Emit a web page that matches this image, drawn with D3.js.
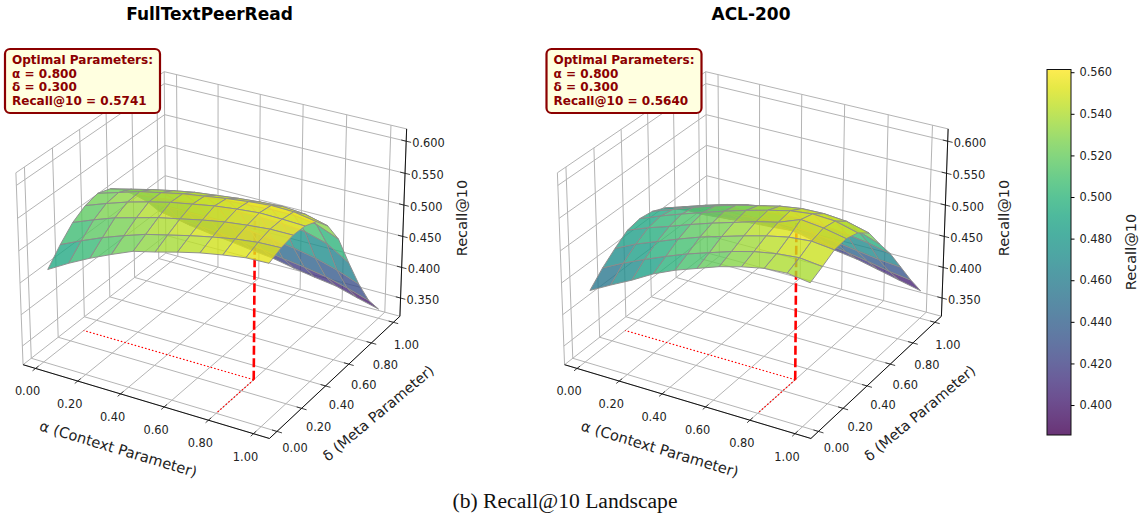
<!DOCTYPE html>
<html>
<head>
<meta charset="utf-8">
<script src="https://cdn.jsdelivr.net/npm/d3@7"></script>
<style>
  html, body { margin: 0; padding: 0; background: #fff; }
  text { font-family: "DejaVu Sans", sans-serif; fill: #222; }
</style>
</head>
<body>
<svg width="1141" height="516"></svg>
<script>
const alphas = [0, 0.1, 0.2, 0.3, 0.4, 0.5, 0.6, 0.7, 0.8, 0.9, 1];
const deltas = [0.05, 0.145, 0.24, 0.335, 0.43, 0.525, 0.62, 0.715, 0.81, 0.905, 1];

// one row per delta, one column per alpha
const recallFullText = [
  [.459, .478, .495, .510, .524, .532, .541, .549, .555, .560, .561],
  [.483, .498, .512, .524, .535, .543, .551, .558, .564, .568, .569],
  [.503, .516, .528, .537, .546, .553, .560, .566, .570, .573, .573],
  [.515, .527, .538, .547, .555, .561, .567, .571, .5741, .5735, .572],
  [.520, .530, .540, .547, .554, .559, .564, .568, .571, .570, .564],
  [.513, .521, .529, .536, .542, .546, .550, .553, .555, .552, .543],
  [.497, .503, .509, .515, .520, .523, .525, .527, .527, .522, .508],
  [.475, .479, .483, .487, .490, .491, .491, .490, .487, .477, .456],
  [.450, .450, .450, .450, .449, .446, .442, .437, .430, .420, .407],
  [.420, .415, .413, .410, .406, .402, .396, .391, .385, .376, .365],
  [.397, .390, .385, .381, .376, .372, .365, .359, .354, .344, .335]
];
const recallAcl = [
  [.426, .444, .461, .480, .495, .507, .519, .528, .535, .537, .532],
  [.446, .463, .478, .492, .505, .516, .527, .536, .542, .545, .541],
  [.462, .478, .491, .504, .516, .526, .536, .545, .552, .555, .551],
  [.476, .489, .500, .512, .523, .533, .543, .551, .564, .560, .553],
  [.480, .493, .505, .516, .527, .537, .546, .554, .558, .556, .547],
  [.477, .489, .501, .512, .522, .530, .538, .543, .544, .541, .532],
  [.468, .479, .490, .500, .508, .514, .518, .520, .518, .512, .500],
  [.452, .462, .471, .478, .484, .487, .488, .487, .483, .478, .470],
  [.435, .441, .447, .451, .454, .453, .451, .447, .442, .437, .434],
  [.415, .419, .423, .426, .428, .425, .421, .416, .410, .403, .398],
  [.397, .400, .403, .405, .408, .400, .394, .389, .381, .373, .365]
];

const abTicks = [0, 0.2, 0.4, 0.6, 0.8, 1];
const zTicks = [0.35, 0.4, 0.45, 0.5, 0.55, 0.6];
const barTicks = [0.40, 0.42, 0.44, 0.46, 0.48, 0.50, 0.52, 0.54, 0.56];
const barDomain = [0.3856, 0.5613];
const aLim = [-0.06, 1.07];
const dLim = [-0.06, 1.06];
const zLim = [0.32, 0.619];

const svg = d3.select("svg");
const fmt2 = d3.format(".2f"), fmt3 = d3.format(".3f");

// camera in the style of mplot3d, fitted box
const elev = 27.5 * Math.PI / 180, azim = -60 * Math.PI / 180, dist = 11.5;
const k = 1.8294640721620434 * 25 / 24 / Math.hypot(4, 4, 3);
const box = [4 * k, 3.95 * k, 3.03 * k];
const w = [Math.cos(elev) * Math.cos(azim), Math.cos(elev) * Math.sin(azim), Math.sin(elev)];
const u = [-w[1] / Math.hypot(w[0], w[1]), w[0] / Math.hypot(w[0], w[1]), 0];
const v = [w[1] * u[2] - w[2] * u[1], w[2] * u[0] - w[0] * u[2], w[0] * u[1] - w[1] * u[0]];
const eye = box.map((b, i) => b / 2 + dist * w[i]);
const dot = (p, q) => p[0] * q[0] + p[1] * q[1] + p[2] * q[2];

const aScale = d3.scaleLinear().domain(aLim).range([0, box[0]]);
const dScale = d3.scaleLinear().domain(dLim).range([0, box[1]]);
const zScale = d3.scaleLinear().domain(zLim).range([0, box[2]]);
const screenScale = 2725;

function makeProject(cx, cy) {
  return function(a, d, z) {
    const p = [aScale(a), dScale(d), zScale(z)].map((c, i) => c - eye[i]);
    const depth = -dot(p, w);
    return { x: cx + screenScale * dot(p, u) / depth, y: cy - screenScale * dot(p, v) / depth, depth: depth };
  };
}

const line = d3.line().x(p => p.x).y(p => p.y);
const gridColor = "#b4b4b4";

function drawPanel(cfg) {
  const project = makeProject(cfg.cx, cfg.cy);
  const g = svg.append("g");
  const seg = (p, q, color, width) => g.append("path")
    .attr("d", line([p, q])).attr("fill", "none")
    .attr("stroke", color).attr("stroke-width", width);

  const [a0, a1] = aLim, [d0, d1] = dLim, [z0, z1] = zLim;

  // panes and grid
  [[a0, d0, a1, d0], [a1, d0, a1, d1], [a1, d1, a0, d1], [a0, d1, a0, d0]].forEach(e =>
    seg(project(e[0], e[1], z0), project(e[2], e[3], z0), gridColor, 1));
  seg(project(a0, d0, z0), project(a0, d0, z1), gridColor, 1);
  seg(project(a0, d1, z0), project(a0, d1, z1), gridColor, 1);
  seg(project(a1, d1, z0), project(a1, d1, z1), gridColor, 1);
  seg(project(a0, d0, z1), project(a0, d1, z1), gridColor, 1);
  seg(project(a0, d1, z1), project(a1, d1, z1), gridColor, 1);
  abTicks.forEach(t => {
    seg(project(t, d0, z0), project(t, d1, z0), gridColor, 1);
    seg(project(t, d1, z0), project(t, d1, z1), gridColor, 1);
    seg(project(a0, t, z0), project(a1, t, z0), gridColor, 1);
    seg(project(a0, t, z0), project(a0, t, z1), gridColor, 1);
  });
  zTicks.forEach(t => {
    seg(project(a0, d0, t), project(a0, d1, t), gridColor, 1);
    seg(project(a0, d1, t), project(a1, d1, t), gridColor, 1);
  });

  // axes
  seg(project(a0, d0, z0), project(a1, d0, z0), "#111", 1);
  seg(project(a1, d0, z0), project(a1, d1, z0), "#111", 1);
  seg(project(a1, d1, z0), project(a1, d1, z1), "#111", 1);

  const tickSize = 0.022;
  abTicks.forEach(t => {
    let p = project(t, d0, z0);
    seg(project(t, d0 - tickSize, z0), project(t, d0 + tickSize, z0), "#111", 0.8);
    g.append("text").attr("x", p.x - 8).attr("y", p.y + 27).attr("text-anchor", "middle")
      .attr("font-size", 11.4).text(fmt2(t));
    p = project(a1, t, z0);
    seg(project(a1 - tickSize, t, z0), project(a1 + tickSize, t, z0), "#111", 0.8);
    g.append("text").attr("x", p.x + 18 - 5 * t).attr("y", p.y + 21 + 6 * t).attr("text-anchor", "middle")
      .attr("font-size", 11.4).text(fmt2(t));
  });
  zTicks.forEach(t => {
    const p = project(a1, d1, t);
    seg(project(a1 - tickSize, d1, t), project(a1 + tickSize, d1, t), "#111", 0.8);
    g.append("text").attr("x", p.x + 6).attr("y", p.y + 5.5).attr("font-size", 11.4).text(fmt3(t));
  });

  // marker for the best point goes under the surface
  const base = project(cfg.bestA, cfg.bestD, z0);
  g.append("path").attr("d", line([base, project(cfg.bestA, cfg.bestD, cfg.bestZ)]))
    .attr("fill", "none").attr("stroke", "#f00").attr("stroke-width", 2.6).attr("stroke-dasharray", "9,3.5");
  [project(abTicks[0], cfg.bestD, z0), project(cfg.bestA, abTicks[0], z0)].forEach(p => {
    g.append("path").attr("d", line([base, p])).attr("fill", "none")
      .attr("stroke", "#f00").attr("stroke-width", 1.2).attr("stroke-dasharray", "1.6,2");
  });

  // surface, far cells first
  const color = d3.scaleSequential(d3.interpolateViridis).domain(d3.extent(cfg.values.flat()));
  const cells = [];
  for (let j = 0; j < deltas.length - 1; j++) {
    for (let i = 0; i < alphas.length - 1; i++) {
      const corners = [[i, j], [i + 1, j], [i + 1, j + 1], [i, j + 1]];
      const pts = corners.map(c => project(alphas[c[0]], deltas[c[1]], cfg.values[c[1]][c[0]]));
      cells.push({
        pts: pts,
        depth: d3.mean(pts, p => p.depth),
        z: d3.mean(corners, c => cfg.values[c[1]][c[0]])
      });
    }
  }
  cells.sort((p, q) => q.depth - p.depth);
  g.selectAll(".cell").data(cells).enter().append("path")
    .attr("class", "cell")
    .attr("d", c => line(c.pts) + "Z")
    .attr("fill", c => color(c.z))
    .attr("fill-opacity", 0.8)
    .attr("stroke", "#8c8c8c")
    .attr("stroke-opacity", 0.95)
    .attr("stroke-width", 1)
    .attr("stroke-linejoin", "round");

  // labels
  g.append("text").attr("x", cfg.cx - 5).attr("y", 20).attr("text-anchor", "middle")
    .attr("font-size", 17).attr("font-weight", "bold")
    .style("fill", "#000").text(cfg.title);
  g.append("text").attr("transform", `translate(${cfg.cx - 96.5},450) rotate(16.7)`)
    .attr("text-anchor", "middle").attr("dominant-baseline", "middle")
    .attr("font-size", 14.6).text("α (Context Parameter)");
  g.append("text").attr("transform", `translate(${cfg.cx + 164.5},414) rotate(-40)`)
    .attr("text-anchor", "middle").attr("dominant-baseline", "middle")
    .attr("font-size", 14.4).text("δ (Meta Parameter)");
  g.append("text").attr("transform", `translate(${cfg.cx + 248.5},218) rotate(-90)`)
    .attr("text-anchor", "middle").attr("dominant-baseline", "middle")
    .attr("font-size", 14.6).text("Recall@10");

  // annotation box
  const bx = cfg.cx - 209.5;
  g.append("rect").attr("x", bx).attr("y", 49).attr("width", 155).attr("height", 64).attr("rx", 5)
    .attr("fill", "#ffffe0").attr("stroke", "#8b0000").attr("stroke-width", 2.2);
  ["Optimal Parameters:", "α = " + fmt3(cfg.bestA), "δ = " + fmt3(cfg.bestD), "Recall@10 = " + cfg.bestZ.toFixed(4)]
    .forEach((s, i) => {
      g.append("text").attr("x", bx + 7).attr("y", 64 + i * 13.6)
        .attr("font-size", 12.05).attr("font-weight", "bold")
        .style("fill", "#8b0000").text(s);
    });
}

drawPanel({ title: "FullTextPeerRead", values: recallFullText, bestA: 0.8, bestD: 0.3, bestZ: 0.5741, cx: 214.5, cy: 247 });
drawPanel({ title: "ACL-200", values: recallAcl, bestA: 0.8, bestD: 0.3, bestZ: 0.5640, cx: 756, cy: 247 });

// colorbar
const barX = 1047, barW = 24;
const barY = d3.scaleLinear().domain(barDomain).range([435, 69.5]);
const grad = svg.append("defs").append("linearGradient").attr("id", "viridisBar")
  .attr("x1", 0).attr("x2", 0).attr("y1", 1).attr("y2", 0);
d3.range(0, 1.0001, 0.05).forEach(t => {
  grad.append("stop").attr("offset", t).attr("stop-color", d3.interpolateViridis(t)).attr("stop-opacity", 0.8);
});
svg.append("rect").attr("x", barX).attr("y", barY.range()[1]).attr("width", barW)
  .attr("height", barY.range()[0] - barY.range()[1]).attr("fill", "url(#viridisBar)")
  .attr("stroke", "#111").attr("stroke-width", 1);
const barAxis = svg.append("g").attr("transform", `translate(${barX + barW},0)`)
  .call(d3.axisRight(barY).tickValues(barTicks).tickFormat(fmt3).tickSize(3.5).tickPadding(5));
barAxis.select(".domain").remove();
barAxis.selectAll("text").attr("font-size", 11.4).attr("font-family", "DejaVu Sans").style("fill", "#222");
svg.append("text").attr("transform", "translate(1132,252) rotate(-90)")
  .attr("text-anchor", "middle").attr("dominant-baseline", "middle")
  .attr("font-size", 14.6).text("Recall@10");

// caption
svg.append("text").attr("x", 565).attr("y", 508).attr("text-anchor", "middle")
  .attr("font-size", 21.6).style("font-family", "'Liberation Serif', serif").style("fill", "#111")
  .text("(b) Recall@10 Landscape");
</script>
</body>
</html>
